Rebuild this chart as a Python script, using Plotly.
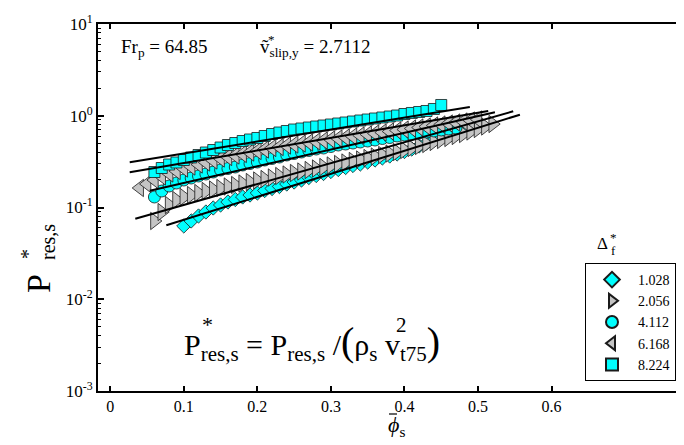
import plotly.graph_objects as go

# ---------------- data ----------------
legend_labels = ["1.028", "2.056", "4.112", "6.168", "8.224"]

x_d = [0.10, 0.11, 0.12, 0.13, 0.14, 0.15, 0.16, 0.17, 0.18, 0.19,
       0.20, 0.21, 0.22, 0.23, 0.24, 0.25, 0.26, 0.27, 0.28, 0.29,
       0.30, 0.31, 0.32, 0.33, 0.34, 0.35, 0.36, 0.37, 0.38, 0.39,
       0.40, 0.41, 0.42, 0.43, 0.44, 0.45, 0.46, 0.47, 0.48, 0.49]
y_d = [0.0629, 0.0713, 0.0808, 0.0893, 0.0988, 0.1065, 0.1148, 0.1223, 0.1302, 0.1368,
       0.1439, 0.1532, 0.1611, 0.1694, 0.1804, 0.1896, 0.1994, 0.2123, 0.2233, 0.2348,
       0.2469, 0.2596, 0.2729, 0.2870, 0.2980, 0.3133, 0.3294, 0.3464, 0.3641, 0.3829,
       0.4076, 0.4341, 0.4681, 0.5047, 0.5441, 0.5940, 0.6486, 0.7081, 0.7731, 0.8337]

x_r = [0.06, 0.07, 0.08, 0.09, 0.10, 0.11, 0.12, 0.13, 0.14, 0.15,
       0.16, 0.17, 0.18, 0.19, 0.20, 0.21, 0.22, 0.23, 0.24, 0.25,
       0.26, 0.27, 0.28, 0.29, 0.30, 0.31, 0.32, 0.33, 0.34, 0.35,
       0.36, 0.37, 0.38, 0.39, 0.40, 0.41, 0.42, 0.43, 0.44, 0.45,
       0.46, 0.47, 0.48, 0.49, 0.50, 0.51, 0.52]
y_r = [0.0713, 0.0893, 0.1065, 0.1207, 0.1302, 0.1368, 0.1439, 0.1513, 0.1571, 0.1632,
       0.1694, 0.1759, 0.1827, 0.1896, 0.1969, 0.2044, 0.2123, 0.2205, 0.2289, 0.2377,
       0.2469, 0.2563, 0.2661, 0.2763, 0.2870, 0.2980, 0.3094, 0.3212, 0.3336, 0.3464,
       0.3596, 0.3734, 0.3877, 0.4026, 0.4232, 0.4451, 0.4681, 0.4922, 0.5176, 0.5441,
       0.5722, 0.6017, 0.6326, 0.6733, 0.7172, 0.7634, 0.8129]

x_c = [0.06, 0.07, 0.08, 0.09, 0.10, 0.11, 0.12, 0.13, 0.14, 0.15,
       0.16, 0.17, 0.18, 0.19, 0.20, 0.21, 0.22, 0.23, 0.24, 0.25,
       0.26, 0.27, 0.28, 0.29, 0.30, 0.31, 0.32, 0.33, 0.34, 0.35,
       0.36, 0.37, 0.38, 0.39, 0.40, 0.41, 0.42, 0.43, 0.44, 0.45,
       0.46, 0.47]
y_c = [0.1302, 0.1513, 0.1715, 0.1849, 0.1994, 0.2097, 0.2205, 0.2318, 0.2437, 0.2563,
       0.2661, 0.2763, 0.2905, 0.3017, 0.3133, 0.3294, 0.3421, 0.3551, 0.3734, 0.3877,
       0.4026, 0.4180, 0.4341, 0.4451, 0.4623, 0.4799, 0.4922, 0.5047, 0.5176, 0.5307,
       0.5441, 0.5650, 0.5793, 0.6017, 0.6168, 0.6326, 0.6486, 0.6651, 0.6821, 0.6994,
       0.7172, 0.7355]

x_l = [0.04, 0.05, 0.06, 0.07, 0.08, 0.09, 0.10, 0.11, 0.12, 0.13,
       0.14, 0.15, 0.16, 0.17, 0.18, 0.19, 0.20, 0.21, 0.22, 0.23,
       0.24, 0.25, 0.26, 0.27, 0.28, 0.29, 0.30, 0.31, 0.32, 0.33,
       0.34, 0.35, 0.36, 0.37, 0.38, 0.39, 0.40, 0.41, 0.42, 0.43,
       0.44, 0.45, 0.46, 0.47, 0.48, 0.49, 0.50]
y_l = [0.1632, 0.1804, 0.1994, 0.2177, 0.2348, 0.2499, 0.2661, 0.2798, 0.2942, 0.3094,
       0.3253, 0.3421, 0.3551, 0.3688, 0.3829, 0.3976, 0.4127, 0.4286, 0.4451, 0.4565,
       0.4739, 0.4860, 0.4984, 0.5110, 0.5241, 0.5374, 0.5511, 0.5650, 0.5793, 0.5940,
       0.6091, 0.6246, 0.6405, 0.6568, 0.6733, 0.6906, 0.7081, 0.7261, 0.7446, 0.7634,
       0.7829, 0.8029, 0.8233, 0.8442, 0.8656, 0.8876, 0.9102]

x_s = [0.06, 0.07, 0.08, 0.09, 0.10, 0.11, 0.12, 0.13, 0.14, 0.15,
       0.16, 0.17, 0.18, 0.19, 0.20, 0.21, 0.22, 0.23, 0.24, 0.25,
       0.26, 0.27, 0.28, 0.29, 0.30, 0.31, 0.32, 0.33, 0.34, 0.35,
       0.36, 0.37, 0.38, 0.39, 0.40, 0.41, 0.42, 0.43, 0.44, 0.45]
y_s = [0.2437, 0.2695, 0.2942, 0.3094, 0.3294, 0.3508, 0.3734, 0.3976, 0.4232, 0.4508,
       0.4799, 0.5047, 0.5307, 0.5511, 0.5722, 0.6017, 0.6326, 0.6568, 0.6821, 0.7081,
       0.7261, 0.7446, 0.7634, 0.7829, 0.8029, 0.8233, 0.8442, 0.8656, 0.8876, 0.9102,
       0.9333, 0.9570, 0.9813, 1.006, 1.045, 1.072, 1.099, 1.127, 1.185, 1.310]

# exponential fit lines (straight on the log axis): start/end points per series
fit_x0 = [0.0762, 0.0340, 0.0536, 0.0264, 0.0264]
fit_x1 = [0.5570, 0.5479, 0.5230, 0.5139, 0.4889]
fit_y0 = [0.0640, 0.0755, 0.1524, 0.2419, 0.3110]
fit_y1 = [1.027, 1.118, 1.090, 1.127, 1.245]

x_ticks = [0, 0.1, 0.2, 0.3, 0.4, 0.5, 0.6]
x_ticktext = ["0", "0.1", "0.2", "0.3", "0.4", "0.5", "0.6"]
y_ticks = [1e-3, 1e-2, 1e-1, 1, 10]
y_ticktext = ["10<sup>-3</sup>", "10<sup>-2</sup>", "10<sup>-1</sup>", "10<sup>0</sup>", "10<sup>1</sup>"]

# ---------------- figure ----------------
W, H = 684, 445
ML, MR, MT, MB = 90, 0, 16, 62
FONT = "Liberation Serif"

def pxx(p):
    return (p - ML) / (W - ML - MR)

def pxy(p):
    return (H - MB - p) / (H - MT - MB)

CYAN = "#00FFFF"
GREY = "#C4C4C4"
EDGE = "#1a1a1a"

series = [
    (x_d, y_d, "diamond", CYAN, 11),
    (x_r, y_r, "triangle-right", GREY, 15),
    (x_c, y_c, "circle", CYAN, 12),
    (x_l, y_l, "triangle-left", GREY, 15),
    (x_s, y_s, "square", CYAN, 11),
]

fig = go.Figure()
for (xs, ys, sym, col, sz), name in zip(series, legend_labels):
    fig.add_trace(go.Scatter(
        x=xs, y=ys, mode="markers", name=name,
        marker=dict(symbol=sym, color=col, size=sz,
                    line=dict(color=EDGE, width=0.8)),
    ))

for i in range(len(fit_x0)):
    fig.add_trace(go.Scatter(
        x=[fit_x0[i], fit_x1[i]], y=[fit_y0[i], fit_y1[i]],
        mode="lines", line=dict(color="black", width=2),
        showlegend=False, hoverinfo="skip",
    ))

minor_vals = [k * 10.0 ** e for e in range(-3, 1) for k in range(2, 10)]

fig.update_layout(
    width=W, height=H,
    margin=dict(l=ML, r=MR, t=MT, b=MB, autoexpand=False),
    paper_bgcolor="white", plot_bgcolor="white",
    font=dict(family=FONT, color="black", size=15),
    showlegend=True,
    legend=dict(
        x=pxx(577), y=pxy(255), xanchor="left", yanchor="top",
        bordercolor="black", borderwidth=1, bgcolor="white",
        font=dict(family=FONT, size=14, color="black"),
        itemwidth=42, itemsizing="constant",
    ),
    xaxis=dict(
        range=[-0.0167, 0.791], tickvals=x_ticks, ticktext=x_ticktext,
        ticks="inside", ticklen=5, tickwidth=1.5, tickcolor="black",
        showline=True, linewidth=2, linecolor="black", mirror="ticks",
        showgrid=False, zeroline=False, automargin=False,
        tickfont=dict(family=FONT, size=16),
    ),
    yaxis=dict(
        type="log", range=[-3, 1], tickvals=y_ticks, ticktext=y_ticktext,
        ticks="inside", ticklen=6, tickwidth=1.5, tickcolor="black",
        showline=True, linewidth=2, linecolor="black", mirror=False,
        showgrid=False, zeroline=False, automargin=False,
        tickfont=dict(family=FONT, size=17),
        minor=dict(tickvals=minor_vals, ticks="inside", ticklen=3,
                   tickwidth=1, tickcolor="black", showgrid=False),
    ),
)

ann = []
def add(text, x, y, size, xanchor="center", yanchor="middle", angle=0, fam=FONT):
    ann.append(dict(text=text, x=pxx(x), y=pxy(y), xref="paper", yref="paper",
                    xanchor=xanchor, yanchor=yanchor, showarrow=False,
                    textangle=angle, font=dict(family=fam, size=size, color="black")))

# y-axis title (rotated, stacked super/subscripts)
add("P", 30, 276, 34, angle=-90)
add("*", 20, 246, 20, angle=-90)
add("res,s", 40, 234, 20, angle=-90)

# x-axis title (phi with overbar drawn as a short rule)
add("<i>\u03d5</i><sub>s</sub>", 388, 418, 22)
fig.add_shape(type="line", xref="paper", yref="paper",
              x0=pxx(381), x1=pxx(389), y0=pxy(406), y1=pxy(406),
              line=dict(color="black", width=1.2))

# top annotations
add("Fr<sub>p</sub> = 64.85", 111, 40, 19, xanchor="left")
add("v\u0303<sub>slip,y</sub> = 2.7112", 250, 40, 19, xanchor="left")
add("*", 263, 31, 13)

# formula (superscripts stacked above subscripts via separate labels)
BIG = "<span style='font-size:40px'>%s</span>"
add("P<sub>res,s</sub> = P<sub>res,s</sub> /" + BIG % "(" + "\u03c1<sub>s</sub> v<sub>t75</sub>" + BIG % ")",
    174, 334, 30, xanchor="left")
add("*", 199, 316, 22)
add("2", 393, 317, 21)

# legend title
add("\u0394", 594, 235, 17)
add("*", 605, 229, 13)
add("f", 605, 242, 13)

fig.update_layout(annotations=ann)
fig.write_html("out.html")
